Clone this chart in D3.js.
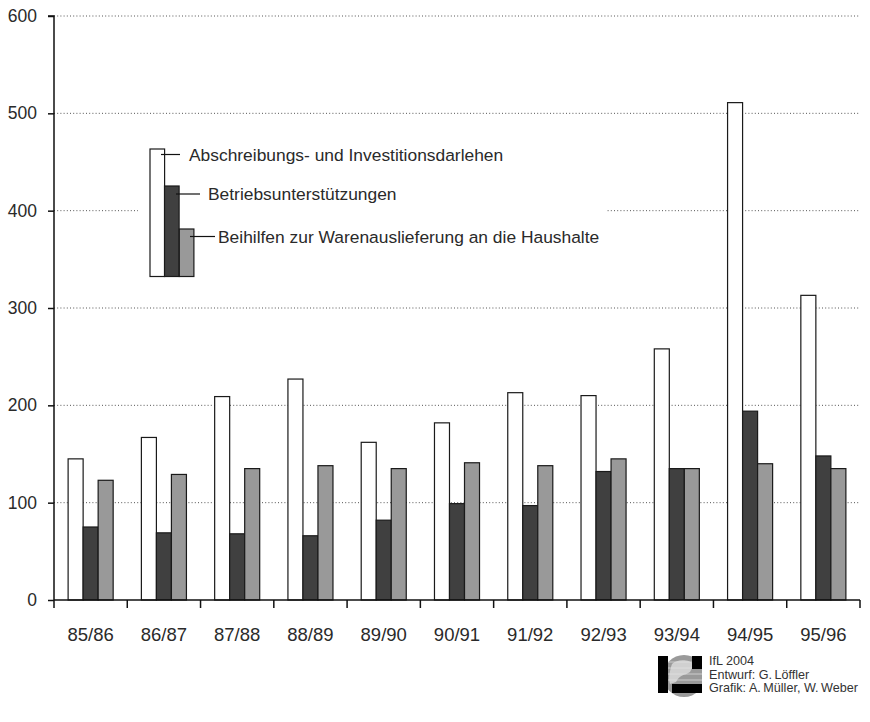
<!DOCTYPE html>
<html>
<head>
<meta charset="utf-8">
<script src="https://cdn.jsdelivr.net/npm/d3@7"></script>
<style>
  html, body { margin: 0; padding: 0; background: #fff; }
  svg { display: block; font-family: "Liberation Sans", Arial, sans-serif; }
</style>
</head>
<body>
<svg id="chart" width="870" height="722"></svg>
<script>
const categories = ["85/86","86/87","87/88","88/89","89/90","90/91","91/92","92/93","93/94","94/95","95/96"];
const seriesNames = ["Abschreibungs- und Investitionsdarlehen","Betriebsunterstützungen","Beihilfen zur Warenauslieferung an die Haushalte"];
const abschreibung = [145, 167, 209, 227, 162, 182, 213, 210, 258, 511, 313];
const betrieb = [75, 69, 68, 66, 82, 99, 97, 132, 135, 194, 148];
const beihilfen = [123, 129, 135, 138, 135, 141, 138, 145, 135, 140, 135];
const yTicks = [0, 100, 200, 300, 400, 500, 600];
const colors = ["#ffffff", "#404040", "#999999"];
const credits = ["IfL 2004", "Entwurf: G.\u2009Löffler", "Grafik: A.\u2009Müller, W.\u2009Weber"];

const seriesValues = [abschreibung, betrieb, beihilfen];
const svg = d3.select("#chart");
const mLeft = 54, mRight = 860, mTop = 16, mBottom = 600;

const y = d3.scaleLinear().domain([0, 600]).range([mBottom, mTop]);
const x0 = d3.scaleBand().domain(categories).range([mLeft, mRight]).padding(0);
const x1 = d3.scaleBand().domain(d3.range(3)).range([0, x0.bandwidth()]).paddingInner(0).paddingOuter(0.94);

// gridlines
svg.append("g").selectAll("line").data(yTicks.filter(d => d > 0)).join("line")
  .attr("x1", mLeft).attr("x2", mRight)
  .attr("y1", d => y(d)).attr("y2", d => y(d))
  .attr("stroke", "#555").attr("stroke-width", 1).attr("stroke-dasharray", "1,2.2");

// legend background (interrupts gridline)
svg.append("rect").attr("x", 138).attr("y", 140).attr("width", 468).attr("height", 140).attr("fill", "#fff");

// bars
const groups = svg.append("g").selectAll("g").data(categories).join("g")
  .attr("transform", d => `translate(${x0(d)},0)`);
groups.selectAll("rect").data((d, i) => seriesValues.map((s, k) => ({k, v: s[i]}))).join("rect")
  .attr("x", d => x1(d.k))
  .attr("width", x1.bandwidth())
  .attr("y", d => y(d.v))
  .attr("height", d => y(0) - y(d.v))
  .attr("fill", d => colors[d.k])
  .attr("stroke", "#1a1a1a").attr("stroke-width", 1.2);

// y axis
const yAxis = d3.axisLeft(y).tickValues(yTicks).tickSize(6).tickPadding(11).tickFormat(d3.format("d"));
const gy = svg.append("g").attr("transform", `translate(${mLeft},0)`).call(yAxis);
gy.select(".domain").attr("stroke", "#111").attr("stroke-width", 1.5).attr("d", `M-6,${mTop}H0V${mBottom}`);
gy.selectAll(".tick line").attr("stroke", "#111").attr("stroke-width", 1.5);
gy.selectAll(".tick text").attr("font-size", 17.5).attr("fill", "#2a2a2a").attr("font-family", "Liberation Sans, Arial, sans-serif");

// x axis
const gx = svg.append("g").attr("transform", `translate(0,${mBottom})`);
gx.append("line").attr("x1", mLeft).attr("x2", mRight).attr("y1", 0).attr("y2", 0).attr("stroke", "#111").attr("stroke-width", 1.5);
const edges = categories.map(c => x0(c)).concat([mRight]);
gx.selectAll("line.t").data(edges).join("line").attr("class", "t")
  .attr("x1", d => d).attr("x2", d => d).attr("y1", 0).attr("y2", 8)
  .attr("stroke", "#111").attr("stroke-width", 1.5);
gx.selectAll("text").data(categories).join("text")
  .attr("x", d => x0(d) + x0.bandwidth() / 2).attr("y", 41)
  .attr("text-anchor", "middle").attr("font-size", 18.5).attr("fill", "#2a2a2a")
  .text(d => d);

// legend
const lg = svg.append("g");
const legendTops = [149, 186, 229];
const legX = [150, 164.5, 179.3];
const leaderY = [154.5, 194, 236.5];
const leaderX1 = [161, 176, 190];
const leaderX2 = [180, 200, 215];
const textX = [189, 208, 218];
seriesNames.forEach((name, k) => {
  lg.append("rect").attr("x", legX[k]).attr("y", legendTops[k]).attr("width", 14.6).attr("height", 276.5 - legendTops[k])
    .attr("fill", colors[k]).attr("stroke", "#1a1a1a").attr("stroke-width", 1.2);
});
seriesNames.forEach((name, k) => {
  lg.append("line").attr("x1", leaderX1[k]).attr("x2", leaderX2[k]).attr("y1", leaderY[k]).attr("y2", leaderY[k])
    .attr("stroke", "#111").attr("stroke-width", 1.2);
  lg.append("text").attr("x", textX[k]).attr("y", leaderY[k] + 6).attr("font-size", 17.4).attr("fill", "#2a2a2a").text(name);
});

// logo
const logo = svg.append("g");
const defs = svg.append("defs");
defs.append("clipPath").attr("id", "globeClip").append("circle").attr("cx", 684).attr("cy", 676).attr("r", 21);
const globe = logo.append("g").attr("clip-path", "url(#globeClip)");
globe.append("rect").attr("x", 660).attr("y", 650).attr("width", 50).attr("height", 50).attr("fill", "#9a9a9a");
globe.append("path").attr("d", "M672,664 C678,658 690,660 694,664 L690,672 C684,676 680,674 676,682 L670,684 C668,678 670,670 672,664 Z").attr("fill", "#d0d0d0");
[662, 668, 674, 680].forEach(yy => globe.append("line").attr("x1", 660).attr("x2", 710).attr("y1", yy).attr("y2", yy).attr("stroke", "#e4e4e4").attr("stroke-width", 0.7));
logo.append("rect").attr("x", 658).attr("y", 656).attr("width", 10).attr("height", 37).attr("fill", "#000");
logo.append("rect").attr("x", 692).attr("y", 656).attr("width", 10).attr("height", 13).attr("fill", "#000");
logo.append("rect").attr("x", 672).attr("y", 684).attr("width", 30).attr("height", 9).attr("fill", "#000");
logo.append("rect").attr("x", 640).attr("y", 650).attr("width", 18).attr("height", 48).attr("fill", "#fff");
logo.append("rect").attr("x", 702).attr("y", 650).attr("width", 6).attr("height", 48).attr("fill", "#fff");

svg.append("g").selectAll("text").data(credits).join("text")
  .attr("x", 709).attr("y", (d, i) => 665 + i * 13.5)
  .attr("font-size", 12.6).attr("fill", "#333").text(d => d);
</script>
</body>
</html>
